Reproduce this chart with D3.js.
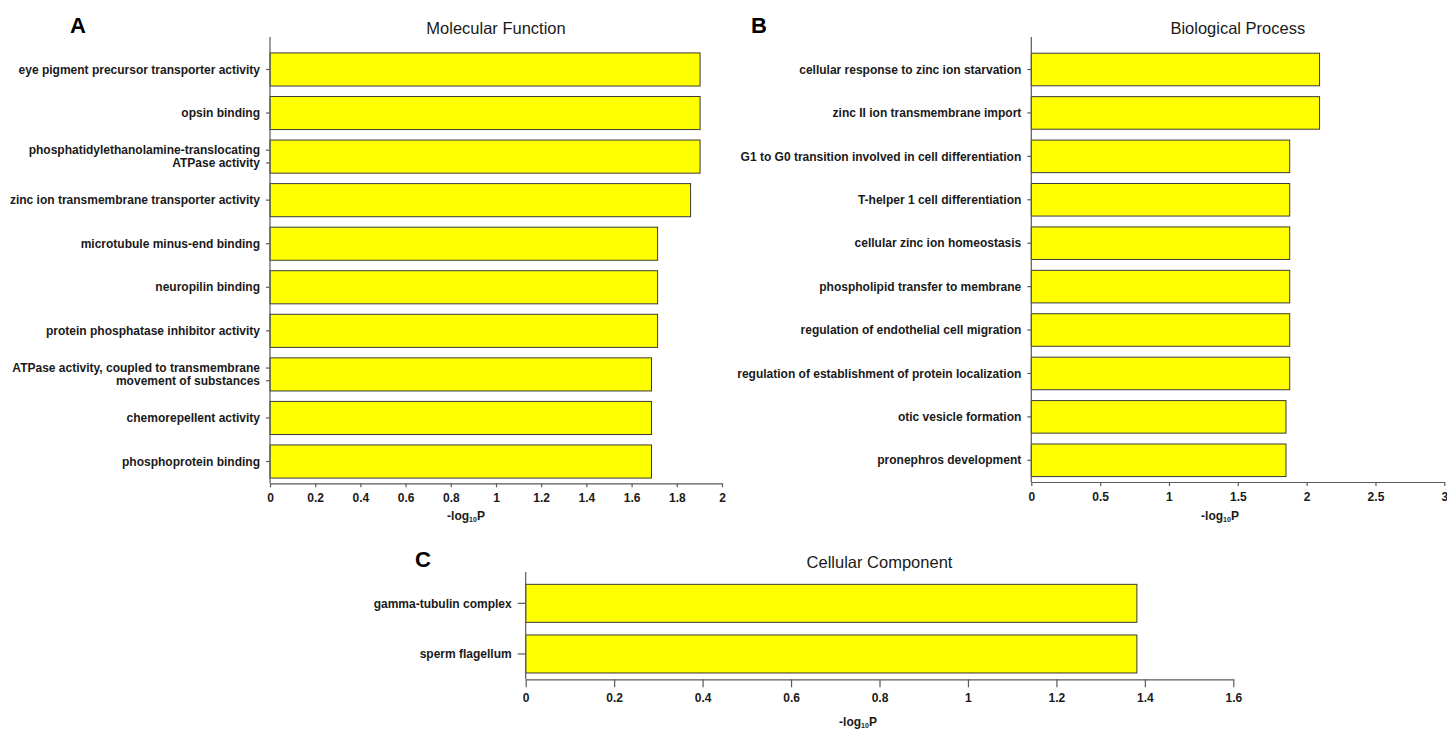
<!DOCTYPE html>
<html>
<head>
<meta charset="utf-8">
<script src="https://cdn.jsdelivr.net/npm/d3@7"></script>
<style>
  html, body { margin: 0; padding: 0; background: #fff; }
  svg { display: block; font-family: "Liberation Sans", Arial, sans-serif; }
</style>
</head>
<body>
<svg id="chart" width="1447" height="729"></svg>
<script>
// ---- Data ----
const mfTerms = [
  "eye pigment precursor transporter activity",
  "opsin binding",
  "phosphatidylethanolamine-translocating\nATPase activity",
  "zinc ion transmembrane transporter activity",
  "microtubule minus-end binding",
  "neuropilin binding",
  "protein phosphatase inhibitor activity",
  "ATPase activity, coupled to transmembrane\nmovement of substances",
  "chemorepellent activity",
  "phosphoprotein binding"
];
const mfValues = [1.903, 1.903, 1.903, 1.861, 1.715, 1.715, 1.715, 1.688, 1.688, 1.688];
const mfTicks = [0, 0.2, 0.4, 0.6, 0.8, 1, 1.2, 1.4, 1.6, 1.8, 2];

const bpTerms = [
  "cellular response to zinc ion starvation",
  "zinc II ion transmembrane import",
  "G1 to G0 transition involved in cell differentiation",
  "T-helper 1 cell differentiation",
  "cellular zinc ion homeostasis",
  "phospholipid transfer to membrane",
  "regulation of endothelial cell migration",
  "regulation of establishment of protein localization",
  "otic vesicle formation",
  "pronephros development"
];
const bpValues = [2.094, 2.094, 1.877, 1.877, 1.877, 1.877, 1.877, 1.877, 1.850, 1.850];
const bpTicks = [0, 0.5, 1, 1.5, 2, 2.5, 3];

const ccTerms = ["gamma-tubulin complex", "sperm flagellum"];
const ccValues = [1.382, 1.382];
const ccTicks = [0, 0.2, 0.4, 0.6, 0.8, 1, 1.2, 1.4, 1.6];

const panelTitles = ["Molecular Function", "Biological Process", "Cellular Component"];
const panelLetters = ["A", "B", "C"];

// ---- Drawing ----
const svg = d3.select("#chart");
const TEXT = "#1a1a1a";
const AXIS = "#5a5a5a";

function drawPanel(cfg) {
  const g = svg.append("g");
  const x = d3.scaleLinear().domain([0, cfg.max]).range([cfg.x0, cfg.x1]);
  const y = d3.scaleBand().domain(d3.range(cfg.terms.length))
    .range([cfg.bandTop, cfg.axisY]).paddingInner(cfg.pad).paddingOuter(cfg.pad / 2);

  // bars
  g.selectAll("rect.bar").data(cfg.values).join("rect")
    .attr("class", "bar")
    .attr("x", x(0))
    .attr("y", (d, i) => y(i))
    .attr("width", d => x(d) - x(0))
    .attr("height", y.bandwidth())
    .attr("fill", "#ffff00")
    .attr("stroke", "#3a3a3a")
    .attr("stroke-width", 1);

  // y axis line
  g.append("line")
    .attr("x1", x(0)).attr("x2", x(0))
    .attr("y1", cfg.axisTop).attr("y2", cfg.axisY)
    .attr("stroke", AXIS).attr("stroke-width", 1.2);

  // y labels (multi-line) with ticks per line
  const lh = 12.7;
  cfg.terms.forEach((t, i) => {
    const lines = t.split("\n");
    const cy = y(i) + y.bandwidth() / 2;
    lines.forEach((ln, k) => {
      const ly = cy + (k - (lines.length - 1) / 2) * lh;
      g.append("line")
        .attr("x1", x(0) - cfg.ytick).attr("x2", x(0))
        .attr("y1", ly).attr("y2", ly)
        .attr("stroke", AXIS).attr("stroke-width", 1.2);
      g.append("text")
        .attr("x", x(0) - cfg.ytick - 6)
        .attr("y", ly)
        .attr("dy", "0.35em")
        .attr("text-anchor", "end")
        .attr("font-size", 12)
        .attr("font-weight", "bold")
        .attr("fill", TEXT)
        .text(ln);
    });
  });

  // x axis
  const xa = d3.axisBottom(x).tickValues(cfg.ticks).tickSize(cfg.xtick).tickSizeOuter(0)
    .tickFormat(d3.format("~g")).tickPadding(cfg.tickPad);
  const ax = g.append("g").attr("transform", `translate(0,${cfg.axisY})`).call(xa);
  ax.select(".domain").attr("stroke", AXIS).attr("stroke-width", 1.2);
  ax.selectAll(".tick line").attr("stroke", AXIS).attr("stroke-width", 1.2);
  ax.selectAll(".tick text")
    .attr("font-size", 12).attr("font-weight", "bold")
    .attr("fill", TEXT).attr("font-family", "Liberation Sans, Arial, sans-serif");

  // x axis title
  const xt = g.append("text")
    .attr("x", cfg.labelX).attr("y", cfg.labelY)
    .attr("text-anchor", "middle")
    .attr("font-size", 12).attr("font-weight", "bold").attr("fill", TEXT);
  xt.append("tspan").text("-log");
  xt.append("tspan").attr("font-size", 7).attr("dy", 2).text("10");
  xt.append("tspan").attr("dy", -2).text("P");

  // title
  g.append("text")
    .attr("x", (cfg.x0 + cfg.x1) / 2).attr("y", cfg.titleY)
    .attr("text-anchor", "middle")
    .attr("font-size", 16.5).attr("fill", TEXT)
    .text(cfg.title);

  // letter
  g.append("text")
    .attr("x", cfg.letterX).attr("y", cfg.letterY)
    .attr("font-size", 22).attr("font-weight", "bold").attr("fill", "#000")
    .text(cfg.letter);
}

drawPanel({
  terms: mfTerms, values: mfValues, ticks: mfTicks, max: 2,
  x0: 270, x1: 722, bandTop: 47.7, axisY: 483.3, axisTop: 37, pad: 0.24,
  ytick: 4, xtick: 4, tickPad: 6,
  labelX: 466, labelY: 520, titleY: 34,
  title: panelTitles[0], letter: panelLetters[0], letterX: 70, letterY: 33
});

drawPanel({
  terms: bpTerms, values: bpValues, ticks: bpTicks, max: 3,
  x0: 1031.3, x1: 1444.3, bandTop: 47.8, axisY: 482, axisTop: 37, pad: 0.25,
  ytick: 4, xtick: 4, tickPad: 6,
  labelX: 1220, labelY: 520, titleY: 34,
  title: panelTitles[1], letter: panelLetters[1], letterX: 751, letterY: 33
});

drawPanel({
  terms: ccTerms, values: ccValues, ticks: ccTicks, max: 1.6,
  x0: 525.7, x1: 1233.3, bandTop: 578, axisY: 679.3, axisTop: 572, pad: 0.25,
  ytick: 8, xtick: 8, tickPad: 6,
  labelX: 858, labelY: 726, titleY: 568,
  title: panelTitles[2], letter: panelLetters[2], letterX: 415, letterY: 567
});
</script>
</body>
</html>
